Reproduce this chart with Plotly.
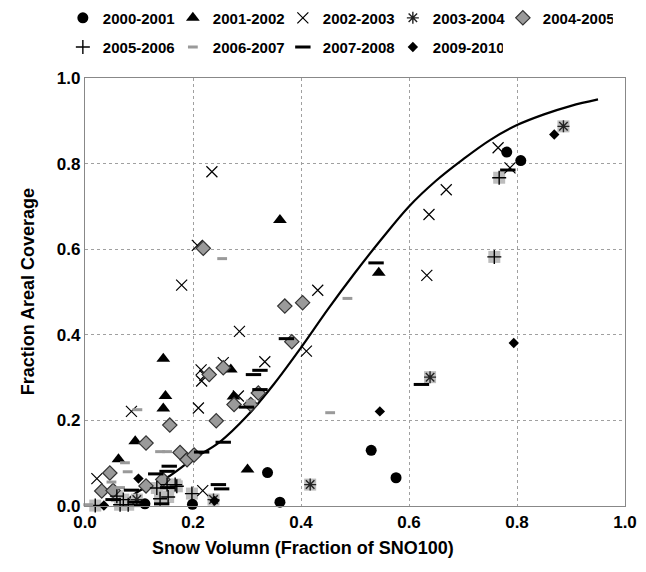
import plotly.graph_objects as go

# ---------------- data ----------------
s2000_x = [0.781, 0.807, 0.530, 0.576, 0.338, 0.361, 0.199, 0.111]
s2000_y = [0.827, 0.807, 0.130, 0.066, 0.078, 0.009, 0.004, 0.005]

s2001_x = [0.361, 0.544, 0.145, 0.270, 0.149, 0.145, 0.275, 0.093, 0.062, 0.301]
s2001_y = [0.668, 0.545, 0.344, 0.319, 0.257, 0.228, 0.256, 0.151, 0.109, 0.085]

s2002_x = [0.765, 0.787, 0.669, 0.637, 0.633, 0.235, 0.208, 0.179, 0.431, 0.286, 0.410,
           0.333, 0.256, 0.215, 0.222, 0.216, 0.284, 0.210, 0.086, 0.022, 0.218]
s2002_y = [0.837, 0.790, 0.739, 0.681, 0.539, 0.781, 0.609, 0.516, 0.504, 0.408, 0.362,
           0.337, 0.335, 0.318, 0.305, 0.292, 0.257, 0.229, 0.221, 0.064, 0.036]

s2003_x = [0.886, 0.639, 0.417, 0.238, 0.096]
s2003_y = [0.887, 0.301, 0.050, 0.015, 0.015]

s2004_x = [0.219, 0.370, 0.403, 0.383, 0.256, 0.230, 0.276, 0.307, 0.321, 0.243, 0.157,
           0.113, 0.176, 0.189, 0.202, 0.046, 0.144, 0.031, 0.052, 0.113]
s2004_y = [0.602, 0.467, 0.475, 0.384, 0.323, 0.307, 0.237, 0.237, 0.264, 0.199, 0.189,
           0.147, 0.125, 0.108, 0.119, 0.077, 0.062, 0.035, 0.036, 0.047]

s2005_x = [0.767, 0.758, 0.170, 0.198, 0.133, 0.152, 0.167, 0.139, 0.154, 0.019, 0.065,
           0.080, 0.059, 0.071]
s2005_y = [0.767, 0.582, 0.046, 0.029, 0.042, 0.050, 0.050, 0.017, 0.021, 0.001, 0.003,
           0.003, 0.023, 0.015]

s2006_x = [0.254, 0.486, 0.454, 0.307, 0.097, 0.139, 0.152, 0.074, 0.079, 0.049, 0.065, 0.006]
s2006_y = [0.578, 0.485, 0.218, 0.245, 0.225, 0.127, 0.127, 0.101, 0.080, 0.056, 0.043, 0.003]

s2007_x = [0.783, 0.539, 0.623, 0.373, 0.312, 0.324, 0.324, 0.299, 0.256, 0.216, 0.156,
           0.152, 0.131, 0.086, 0.247, 0.253, 0.093, 0.105, 0.142, 0.052, 0.153]
s2007_y = [0.785, 0.568, 0.284, 0.391, 0.307, 0.317, 0.272, 0.231, 0.149, 0.126, 0.093,
           0.081, 0.075, 0.037, 0.050, 0.040, 0.009, 0.001, 0.005, 0.015, 0.043]

s2009_x = [0.869, 0.794, 0.546, 0.099, 0.035, 0.240]
s2009_y = [0.868, 0.381, 0.221, 0.064, 0.001, 0.012]

curve_x = [0.07, 0.10, 0.15, 0.20, 0.25, 0.30, 0.35, 0.40, 0.45, 0.50, 0.55, 0.60,
           0.65, 0.70, 0.75, 0.80, 0.85, 0.90, 0.95]
curve_y = [0.005, 0.035, 0.065, 0.11, 0.15, 0.21, 0.285, 0.37, 0.46, 0.545, 0.625, 0.70,
           0.76, 0.81, 0.855, 0.89, 0.915, 0.935, 0.95]

tick_vals = [0.0, 0.2, 0.4, 0.6, 0.8, 1.0]
tick_text = ["0.0", "0.2", "0.4", "0.6", "0.8", "1.0"]

x_title = "Snow Volumn (Fraction of SNO100)"
y_title = "Fraction Areal Coverage"

FONT = "Liberation Sans, Arial, sans-serif"
LIGHT = "#bdbdbd"

fig = go.Figure()

# fitted curve
fig.add_trace(go.Scatter(x=curve_x, y=curve_y, mode="lines",
                         line=dict(color="black", width=2.2, shape="spline"),
                         showlegend=False, hoverinfo="skip"))

def add(x, y, name, legend, **marker):
    fig.add_trace(go.Scatter(x=x, y=y, mode="markers", name=name, legend=legend,
                             marker=marker, cliponaxis=False))

# background squares for composite markers (not in legend)
for sx, sy in ((s2003_x, s2003_y), (s2005_x, s2005_y)):
    fig.add_trace(go.Scatter(x=sx, y=sy, mode="markers", showlegend=False, cliponaxis=False,
                             hoverinfo="skip",
                             marker=dict(symbol="square", size=12, color=LIGHT, line=dict(width=0))))

add(s2000_x, s2000_y, "2000-2001", "legend", symbol="circle", size=11, color="black")
add(s2001_x, s2001_y, "2001-2002", "legend", symbol="triangle-up", size=12, color="black")
add(s2002_x, s2002_y, "2002-2003", "legend", symbol="x-thin-open", size=11, color="black",
    line=dict(width=1.2, color="black"))
add(s2003_x, s2003_y, "2003-2004", "legend", symbol="asterisk-open", size=10, color="#222",
    line=dict(width=1.4, color="#222"))
add(s2004_x, s2004_y, "2004-2005", "legend", symbol="diamond", size=11, color="#9a9a9a",
    line=dict(width=1.2, color="#333"))
add(s2005_x, s2005_y, "2005-2006", "legend2", symbol="cross-thin-open", size=10, color="black",
    line=dict(width=1.4, color="black"))
add(s2006_x, s2006_y, "2006-2007", "legend2", symbol="line-ew-open", size=7, color="#9a9a9a",
    line=dict(width=3, color="#9a9a9a"))
add(s2007_x, s2007_y, "2007-2008", "legend2", symbol="line-ew-open", size=11, color="black",
    line=dict(width=3, color="black"))
add(s2009_x, s2009_y, "2009-2010", "legend2", symbol="diamond", size=8, color="black",
    line=dict(width=0))

axis_common = dict(range=[0, 1], tickvals=tick_vals, ticktext=tick_text,
                   showgrid=True, gridcolor="#a0a0a0", gridwidth=1, griddash="3px,3px",
                   showline=True, linecolor="#888", linewidth=1.2, mirror=True,
                   zeroline=False, ticks="",
                   tickfont=dict(family=FONT, size=17, color="black", weight="bold"))

fig.update_xaxes(**axis_common)
fig.update_yaxes(**axis_common)

legend_common = dict(orientation="h", font=dict(family=FONT, size=15, color="black", weight="bold"),
                     bgcolor="rgba(0,0,0,0)", entrywidth=65, entrywidthmode="pixels",
                     itemsizing="trace", xanchor="left", yanchor="middle", tracegroupgap=0)

fig.add_annotation(text="<b>" + x_title + "</b>", xref="paper", yref="paper",
                   x=0.404, y=-0.097, xanchor="center", yanchor="middle", showarrow=False,
                   font=dict(family=FONT, size=18, color="black"))
fig.add_annotation(text="<b>" + y_title + "</b>", xref="paper", yref="paper",
                   x=-0.105, y=0.5, xanchor="center", yanchor="middle", showarrow=False,
                   textangle=-90, font=dict(family=FONT, size=18, color="black"))

fig.update_layout(
    width=646, height=572,
    margin=dict(l=85, r=21, t=78, b=66, autoexpand=False),
    plot_bgcolor="white", paper_bgcolor="white",
    legend=dict(**legend_common, x=-0.041, y=1.140),
    legend2=dict(**legend_common, x=-0.041, y=1.072),
)

fig.write_html("out.html")
